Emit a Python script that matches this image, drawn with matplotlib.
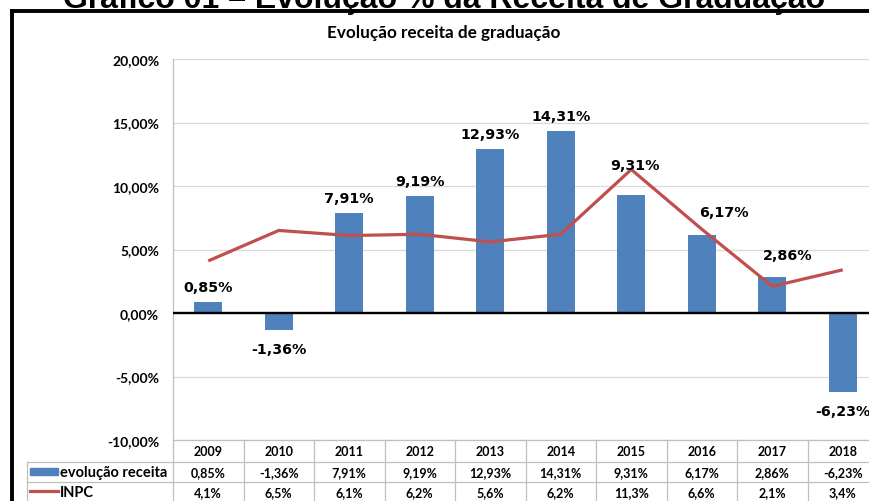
import matplotlib
matplotlib.use('Agg')
import matplotlib.pyplot as plt
from matplotlib.lines import Line2D
from matplotlib.patches import Rectangle
import matplotlib.transforms as mtransforms

# ---- data ----
years = ['2009', '2010', '2011', '2012', '2013', '2014', '2015', '2016', '2017', '2018']
receita = [0.85, -1.36, 7.91, 9.19, 12.93, 14.31, 9.31, 6.17, 2.86, -6.23]
inpc = [4.1, 6.5, 6.1, 6.2, 5.6, 6.2, 11.3, 6.6, 2.1, 3.4]
yticks = [-10, -5, 0, 5, 10, 15, 20]
series_names = ['evolução receita', 'INPC']
main_title = 'Gráfico 01 – Evolução % da Receita de Graduação'
chart_title = 'Evolução receita de graduação'

# extra shift (pixels, dx, dy) of a few bar labels, as placed in the original
label_extra = {6: (4, 15), 7: (22, 8), 8: (15, 7)}

BLUE = '#4F81BD'
RED = '#C0504D'
GRID = '#D9D9D9'
TBL = '#BFBFBF'
CAL = ['Lato', 'DejaVu Sans']

W, H = 869, 502
fig = plt.figure(figsize=(W / 100, H / 100), dpi=100)


def fx(px):
    return px / W


def fy(py):
    return 1 - py / H


def pct2(v):
    return f'{v:.2f}%'.replace('.', ',')


def pct1(v):
    return f'{v:.1f}%'.replace('.', ',')


ax = fig.add_axes([fx(173), fy(441), 705 / W, 381 / H])
x = list(range(len(years)))
ax.bar(x, receita, width=0.4, color=BLUE, zorder=3)
ax.plot(x, inpc, color=RED, lw=2.3, zorder=4, solid_capstyle='butt')
ax.set_xlim(-0.5, len(years) - 0.5)
ax.set_ylim(min(yticks), max(yticks))
ax.set_yticks(yticks)
ax.set_yticklabels([pct2(v) for v in yticks], family=CAL, fontweight='bold', fontsize=10)
ax.tick_params(axis='y', length=0, pad=10)
ax.set_xticks([])
ax.grid(axis='y', color=GRID, lw=0.9, zorder=0)
ax.axhline(0, color='black', lw=1.7, zorder=5)
for s in ['top', 'right']:
    ax.spines[s].set_visible(False)
ax.spines['left'].set_color(TBL)
ax.spines['bottom'].set_color(TBL)
ax.spines['left'].set_linewidth(0.9)
ax.spines['bottom'].set_linewidth(0.9)

# bar value labels
for i, v in enumerate(receita):
    dx, dy = label_extra.get(i, (0, 0))
    off = (15 + dy) if v >= 0 else -19
    ax.annotate(pct2(v), (i, v), xytext=(dx, off), textcoords='offset pixels',
                ha='center', va='center', fontsize=10.3, fontweight='bold',
                family='DejaVu Sans', zorder=6)

# ---- data table ----
bt = mtransforms.blended_transform_factory(ax.transData, fig.transFigure)
rows_y = [441, 463, 483, 503]
for k in range(len(years) + 1):
    fig.add_artist(Line2D([k - 0.5, k - 0.5], [fy(441), fy(503)], transform=bt,
                          color=TBL, lw=0.9))
for ry in rows_y[1:3]:
    fig.add_artist(Line2D([fx(27), 1.0], [fy(ry), fy(ry)], color=TBL, lw=0.9))
fig.add_artist(Line2D([fx(27), fx(27)], [fy(463), fy(503)], color=TBL, lw=0.9))

for i, yr in enumerate(years):
    fig.text(i, fy(452), yr, transform=bt, ha='center', va='center',
             family=CAL, fontweight='bold', fontsize=9)
    fig.text(i, fy(473), pct2(receita[i]), transform=bt, ha='center', va='center',
             family=CAL, fontweight='bold', fontsize=9)
    fig.text(i, fy(493), pct1(inpc[i]), transform=bt, ha='center', va='center',
             family=CAL, fontweight='bold', fontsize=9)

fig.add_artist(Rectangle((fx(30), fy(476)), fx(28), 7 / H, color=BLUE))
fig.add_artist(Line2D([fx(30), fx(58)], [fy(492), fy(492)], color=RED, lw=2.3))
fig.text(fx(60), fy(473), series_names[0], ha='left', va='center',
         family=CAL, fontweight='bold', fontsize=10.5)
fig.text(fx(60), fy(493), series_names[1], ha='left', va='center',
         family=CAL, fontweight='bold', fontsize=10.5)

# ---- titles ----
fig.text(fx(444), fy(33), chart_title, ha='center', va='center',
         family=CAL, fontweight='bold', fontsize=12.3)
fig.text(fx(444), fy(8), main_title, ha='center', va='baseline',
         family='Liberation Sans', fontweight='bold', fontsize=23)

# ---- black frame ----
fig.add_artist(Line2D([fx(11.5), fx(11.5)], [fy(10), 0], color='black', lw=2.8,
                      solid_capstyle='butt'))
fig.add_artist(Line2D([fx(10), 1.0], [fy(11.5), fy(11.5)], color='black', lw=2.8,
                      solid_capstyle='butt'))

fig.savefig('out.png', dpi=100)
